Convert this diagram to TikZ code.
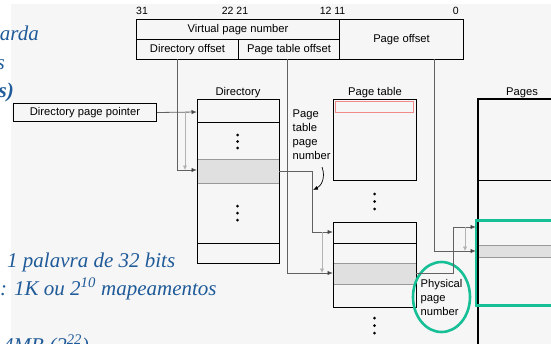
\documentclass[tikz,border=0pt]{standalone}
\usepackage{fontspec}
\setmainfont{Liberation Serif}
\newfontfamily\diagfont{Liberation Sans}
\usetikzlibrary{arrows.meta,calc}

\definecolor{slidebg}{HTML}{F6F6F6}
\definecolor{slideblue}{HTML}{1F5A99}
\definecolor{hilite}{HTML}{17BF96}
\definecolor{rowgray}{HTML}{E0E0E0}
\definecolor{entryred}{HTML}{F08A8A}

\tikzset{
  lbl/.style={font=\diagfont\fontsize{11.2}{14}\selectfont, inner sep=0pt},
  bitno/.style={font=\diagfont\fontsize{10.5}{12}\selectfont, inner sep=0pt},
  field/.style={draw=black, line width=1pt, anchor=north west, inner sep=0pt, lbl},
  tablebox/.style={draw=black, line width=1.2pt, anchor=north west, inner sep=0pt},
  rowline/.style={draw=black, line width=1pt},
  conn/.style={draw=black!62, line width=0.8pt, -{Latex[length=5.5pt,width=4.5pt,fill=black]}},
  guide/.style={draw=black!30, line width=0.8pt, -{Latex[length=4.5pt,width=4.5pt]}},
  dotmark/.style={fill=black},
  slide/.style={font=\itshape\fontsize{21}{25}\selectfont, text=slideblue, inner sep=0pt},
  ring/.style={draw=hilite, line width=2.6pt},
}

\begin{document}
\begin{tikzpicture}[x=1pt,y=-1pt]
\useasboundingbox (0,0) rectangle (551,343);
\clip (0,0) rectangle (551,343);

% slide background panel
\fill[slidebg] (11,4) rectangle (560,350);

% ---- virtual address fields ----
\node[bitno, anchor=base west] (b31) at (136,14) {31};
\node[bitno, anchor=base] (b22) at (235,14) {22 21};
\node[bitno, anchor=base] (b12) at (332.5,14) {12 11};
\node[bitno, anchor=base east] (b0) at (459,14) {0};

\node[field, minimum width=203pt, minimum height=20pt] (vpn) at (136,19) {Virtual page number};
\node[field, minimum width=102pt, minimum height=20pt] (dof) at (136,39) {Directory offset};
\node[field, minimum width=101pt, minimum height=20pt] (ptof) at (238,39) {Page table offset};
\node[field, minimum width=124pt, minimum height=40pt] (pof) at (339,19) {Page offset};

\coordinate (dofTap) at (177,59);
\coordinate (ptofTap) at (287,59);
\coordinate (pofTap) at (434,59);

% ---- directory page pointer ----
\node[field, minimum width=143pt, minimum height=18pt] (dpp) at (13,103) {Directory page pointer};

% ---- directory ----
\node[lbl, anchor=base] (dirlbl) at (238,95) {Directory};
\fill[rowgray] (197,159) rectangle (279,183);
\draw[draw=black!40, line width=1pt] (197,159) -- (279,159) (197,183) -- (279,183);
\node[tablebox, minimum width=82pt, minimum height=164pt] (dir) at (197,99) {};
\draw[rowline] (197,122) -- (279,122) (197,243) -- (279,243);
\foreach \yy in {135,141.5,148,206,213,220}
  \fill[dotmark] (237.5,\yy) circle (1.5pt);
\coordinate (dirTop) at (197,112);
\coordinate (dirHit) at (197,170);
\coordinate (dirOut) at (279,171);

% ---- page tables ----
\node[lbl, anchor=base] (ptlbl) at (375,95) {Page table};
\node[tablebox, minimum width=83pt, minimum height=81pt] (pt1) at (333,99) {};
\draw[draw=entryred, line width=0.8pt] (335.5,101.5) rectangle (413.5,112);
\foreach \yy in {194,201.5,209}
  \fill[dotmark] (374.5,\yy) circle (1.5pt);

\fill[rowgray] (333,263) rectangle (416,284);
\draw[draw=black!40, line width=1pt] (333,263) -- (416,263) (333,284) -- (416,284);
\node[tablebox, minimum width=83pt, minimum height=85pt] (pt2) at (333,222) {};
\draw[rowline] (333,243) -- (416,243);
\foreach \yy in {318,325.5,333}
  \fill[dotmark] (374.5,\yy) circle (1.5pt);
\coordinate (pt2Top) at (333,232);
\coordinate (pt2Hit) at (333,273);
\coordinate (pt2Out) at (416,273.5);

% ---- pages ----
\node[lbl, anchor=base] (pglbl) at (522,95) {Pages};
\fill[rowgray] (478,245) rectangle (560,257);
\draw[draw=black!40, line width=1pt] (478,245) -- (560,245) (478,257) -- (560,257);
\draw[line width=1.2pt] (600,99) -- (478,99) -- (478,360);
\draw[rowline] (478,180) -- (560,180);
\draw[ring] (476,220.5) rectangle (600,305.5);
\coordinate (pgTop) at (476,227);
\coordinate (pgHit) at (476,251);

% ---- labels beside the walk ----
\node[lbl, anchor=north west, align=left] (ptpn) at (292.5,110) {Page\\table\\page\\number};
\node[lbl, anchor=north west, align=left] (ppn) at (420.5,279) {Physical\\page\\number};
\draw[ring] (441.5,297) ellipse (28.5pt and 35pt);

% ---- connectors ----
\draw[conn] (dpp.east) -- (dirTop);
\draw[conn] (dofTap) |- (dirHit);
\draw[guide] (185,112) -- (185,170);

\draw[conn] (dirOut) -- (312,171) |- (pt2Top);
\draw[conn] (ptofTap) |- (pt2Hit);
\draw[guide] (322,232) -- (322,273);
\draw[draw=black, line width=0.7pt, -{Latex[length=5pt,width=4pt]}]
  (322,167) .. controls (326,178) and (321,186) .. (313,190);

\draw[conn] (pt2Out) -- (453,273.5) |- (pgTop);
\draw[conn] (pofTap) |- (pgHit);
\draw[guide] (465,227) -- (465,251);

% ---- slide text lying over the figure ----
\node[slide, anchor=base east] (t1) at (39,40) {arda};
\node[slide, anchor=base east] (t2) at (5,69) {s};
\node[slide, anchor=base east, font=\bfseries\itshape\fontsize{21}{25}\selectfont] (t3) at (14,97) {s)};
\node[slide, anchor=base west] (t4) at (7,267) {1 palavra de 32 bits};
\node[slide, anchor=base west] (t5) at (0,295) {: 1K ou 2\textsuperscript{10} mapeamentos};
\node[slide, anchor=base west] (t6) at (3,352) {4MB (2\textsuperscript{22})};
\end{tikzpicture}
\end{document}
